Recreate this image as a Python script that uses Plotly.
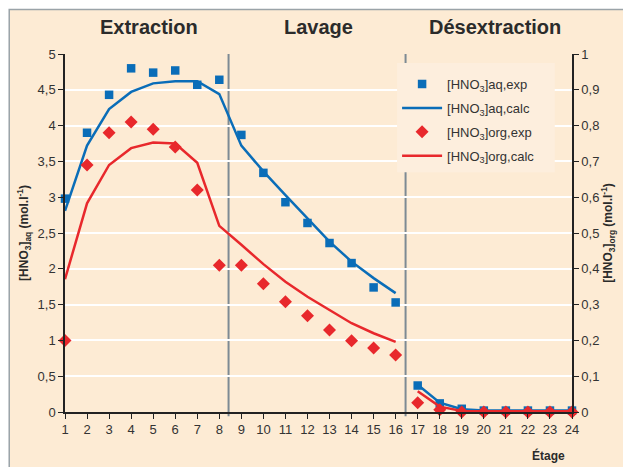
import plotly.graph_objects as go

stages = list(range(1, 25))

aq_exp = [2.98, 3.90, 4.43, 4.80, 4.74, 4.77, 4.57, 4.64, 3.87, 3.34, 2.93, 2.64,
          2.36, 2.08, 1.74, 1.53, 0.37, 0.12, 0.045, 0.02, 0.02, 0.02, 0.02, 0.02]
aq_calc = [2.81, 3.72, 4.23, 4.47, 4.59, 4.62, 4.62, 4.44, 3.72, 3.36, 3.03, 2.71,
           2.38, 2.10, 1.87, 1.66, None, 0.38, 0.13, 0.04, 0.02, 0.02, 0.02, 0.02, 0.02]
org_exp = [0.20, 0.69, 0.78, 0.81, 0.79, 0.74, 0.62, 0.41, 0.41, 0.358, 0.308, 0.269,
           0.229, 0.199, 0.179, 0.159, 0.026, 0.006, 0.0, 0.0, 0.0, 0.0, 0.0, 0.0]
org_calc = [0.371, 0.583, 0.69, 0.737, 0.753, 0.75, 0.696, 0.52, 0.467, 0.413, 0.364, 0.322,
            0.285, 0.248, 0.22, 0.196, None, 0.058, 0.015, 0.003, 0.002, 0.002, 0.002, 0.002, 0.002]
calc_x = list(range(1, 17)) + [16.5] + list(range(17, 25))

section_names = ["Extraction", "Lavage", "Désextraction"]
section_centers = [4.8, 12.5, 20.5]
section_bounds = [8.42, 16.45]

BLUE = "#0a6db8"
RED = "#e8282c"
PEACH = "#fdebd4"
PLOTBG = "#d6dde4"

fig = go.Figure()
fig.add_trace(go.Scatter(x=stages, y=aq_exp, mode="markers", name="[HNO<sub>3</sub>]aq,exp",
                         legendgroup="a", marker=dict(symbol="square", size=8.5, color=BLUE),
                         cliponaxis=False))
fig.add_trace(go.Scatter(x=calc_x, y=aq_calc, mode="lines", name="[HNO<sub>3</sub>]aq,calc",
                         legendgroup="b", line=dict(color=BLUE, width=2.5), connectgaps=False))
fig.add_trace(go.Scatter(x=stages, y=org_exp, mode="markers", name="[HNO<sub>3</sub>]org,exp",
                         legendgroup="c", marker=dict(symbol="diamond", size=10, color=RED),
                         yaxis="y2", cliponaxis=False))
fig.add_trace(go.Scatter(x=calc_x, y=org_calc, mode="lines", name="[HNO<sub>3</sub>]org,calc",
                         legendgroup="d", line=dict(color=RED, width=2.5), yaxis="y2",
                         connectgaps=False))

# background frame
fig.add_shape(type="rect", xref="paper", yref="paper", x0=-0.11, x1=1.2, y0=-0.2, y1=1.124,
              fillcolor=PEACH, line=dict(color="#9aa3a8", width=1.5), layer="below")
# legend box
fig.add_shape(type="rect", xref="paper", yref="paper", x0=0.655, x1=0.966, y0=0.670, y1=0.975,
              fillcolor="#fdeedd", line=dict(width=0), layer="above")
for b in section_bounds:
    fig.add_shape(type="line", xref="x", yref="paper", x0=b, x1=b, y0=-0.012, y1=1,
                  line=dict(color="#7d8a94", width=2), layer="below")

for name, c in zip(section_names, section_centers):
    fig.add_annotation(x=c, xref="x", y=1.075, yref="paper", text=f"<b>{name}</b>",
                       xanchor="center", yanchor="middle",
                       showarrow=False, font=dict(size=20, color="#2b2b2b"))
fig.add_annotation(x=(548 - 65) / 507, xref="paper", y=(412 - 455) / 358, yref="paper",
                   text="<b>Étage</b>", xanchor="center", yanchor="middle",
                   showarrow=False, font=dict(size=12, color="#2b2b2b"))

axis_font = dict(family="Liberation Sans, Arial, sans-serif", size=13, color="#333333")
fig.update_layout(
    width=623, height=459,
    margin=dict(l=57, r=59, t=46, b=55),
    paper_bgcolor="white", plot_bgcolor=PLOTBG,
    separators=", ",
    font=dict(family="Liberation Sans, Arial, sans-serif", color="#333333"),
    showlegend=True,
    legend=dict(x=0.655, y=0.958, xanchor="left", yanchor="top", bgcolor="rgba(0,0,0,0)",
                font=dict(size=13, color="#333333"), tracegroupgap=4,
                itemwidth=40),
    xaxis=dict(range=[1, 24], tickmode="array", tickvals=stages, showgrid=False,
               showline=True, linecolor="#222222", linewidth=1.5, ticks="outside",
               ticklen=5, tickcolor="#222222", tickfont=axis_font, zeroline=False),
    yaxis=dict(range=[0, 5], dtick=0.5, showgrid=True, gridcolor="white", gridwidth=2,
               showline=True, linecolor="#222222", linewidth=1.5, ticks="outside",
               ticklen=5, tickcolor="#222222", tickfont=axis_font, zeroline=False,
               title=dict(text="<b>[HNO<sub>3</sub>]<sub>aq</sub> (mol.l<sup>-1</sup>)</b>",
                          font=dict(size=12, color="#2b2b2b"), standoff=6)),
    yaxis2=dict(range=[0, 1], dtick=0.1, overlaying="y", side="right", showgrid=False,
                showline=True, linecolor="#222222", linewidth=1.5, ticks="outside",
                ticklen=5, tickcolor="#222222", tickfont=axis_font, zeroline=False,
                title=dict(text="<b>[HNO<sub>3</sub>]<sub>org</sub> (mol.l<sup>-1</sup>)</b>",
                           font=dict(size=12, color="#2b2b2b"), standoff=2)),
)

fig.write_html("out.html")
